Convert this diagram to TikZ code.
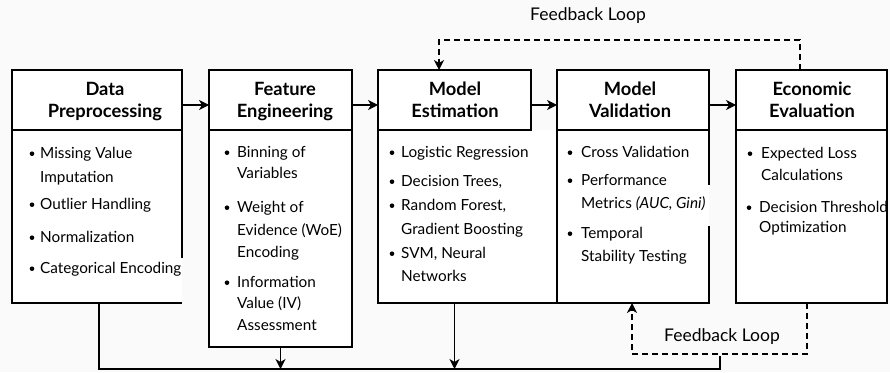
\documentclass[tikz,border=0pt]{standalone}
\usepackage{fontspec}
\setmainfont{Lato}
\usetikzlibrary{arrows.meta}

\begin{document}
\begin{tikzpicture}[x=1pt,y=-1pt,
  frame/.style={line width=1.3pt, inner sep=0pt, outer sep=0pt, anchor=north west, fill=white},
  drawn/.style={frame, draw},
  titletext/.style={font=\bfseries\fontsize{18.3}{21}\selectfont, inner sep=0pt, anchor=base},
  itemtext/.style={font=\fontsize{15.3}{18}\selectfont, inner sep=0pt, anchor=base west},
  dot/.style={circle, fill=black, inner sep=0pt, minimum size=4.6pt},
  notetext/.style={font=\fontsize{17.5}{20}\selectfont, inner sep=0pt},
  flow/.style={line width=1.2pt, -{Stealth[length=10pt,width=10pt,inset=3pt]}},
  wire/.style={line width=1.3pt},
  loop/.style={line width=1.2pt, dash pattern=on 6pt off 4pt},
]
% canvas
\fill[black!2] (0,0) rectangle (890,372);
\useasboundingbox (0,0) rectangle (890,372);

% ---- body panels (fill only; outlines drawn below) ----
\node[frame, minimum width=170pt, minimum height=173pt] (bd1) at (12,130) {};
\node[drawn, minimum width=143pt, minimum height=217pt] (bd2) at (209,130) {};
\node[frame, minimum width=179pt, minimum height=173pt] (bd3) at (378,130) {};
\node[frame, minimum width=152pt, minimum height=173pt] (bd4) at (557,130) {};
\node[drawn, minimum width=151pt, minimum height=173pt] (bd5) at (736,130) {};

% ---- outlines of the open-sided panels ----
\draw[wire] (bd1.north west) -- (bd1.south west) -- (bd1.south east);
\draw[wire] (bd1.north east) -- ++(0,128);
\draw[wire] (bd3.north west) -- (bd3.south west) -- (bd3.south east) -- (bd3.north east);
\draw[wire] (bd4.south west) -- (bd4.south east) -- ++(0,-77);
\draw[wire] (bd4.north east) -- ++(0,55);

% ---- header boxes ----
\node[drawn, minimum width=170pt, minimum height=60pt] (hd1) at (12,70) {};
\node[drawn, minimum width=143pt, minimum height=60pt] (hd2) at (209,70) {};
\node[drawn, minimum width=153pt, minimum height=60pt] (hd3) at (378,70) {};
\node[drawn, minimum width=152pt, minimum height=60pt] (hd4) at (557,70) {};
\node[drawn, minimum width=151pt, minimum height=60pt] (hd5) at (736,70) {};

% ---- header titles ----
\foreach \n/\x/\a/\b in {1/105/Data/Preprocessing, 2/285/Feature/Engineering,
    3/455/Model/Estimation, 4/630/Model/Validation, 5/812/Economic/Evaluation}{
  \node[titletext] (tt\n a) at (\x,95) {\a};
  \node[titletext] (tt\n b) at (\x,117) {\b};
}

% ---- bullet items ----
\foreach \n/\x/\y/\t in {
    1a/40/158.5/{Missing Value}, 1b/40/182.5/{Imputation}, 1c/40/209.5/{Outlier Handling},
    1d/40/242.5/{Normalization}, 1e/40/273.5/{Categorical Encoding},
    2a/237/157.5/{Binning of}, 2b/237/178/{Variables}, 2c/237/212.5/{Weight of},
    2d/237/235.5/{Evidence (WoE)}, 2e/237/257.5/{Encoding}, 2f/237/287.5/{Information},
    2g/237/308.5/{Value (IV)}, 2h/237/330.5/{Assessment},
    3a/401/157.5/{Logistic Regression}, 3b/401/186.5/{Decision Trees,},
    3c/401/210.5/{Random Forest,}, 3d/401/234.5/{Gradient Boosting},
    3e/401/258.5/{SVM, Neural}, 3f/401/281.5/{Networks},
    4a/581/157.5/{Cross Validation}, 4b/581/185.5/{Performance},
    4c/581/208.5/{Metrics \textit{(AUC, Gini)}}, 4d/581/238.5/{Temporal},
    4e/581/261.5/{Stability Testing},
    5a/761/158.5/{Expected Loss}, 5b/761/180.5/{Calculations},
    5c/759/212.5/{Decision Threshold}, 5d/759/232.5/{Optimization}}{
  \node[itemtext] (it\n) at (\x,\y) {\t};
}
\foreach \n/\x/\y in {1a/32/158.5, 1c/32/209.5, 1d/32/242.5, 1e/32/273.5,
    2a/227/157.5, 2c/227/212.5, 2f/227/287.5,
    3a/392/157.5, 3b/392/186.5, 3c/392/210.5, 3e/392/258.5,
    4a/570/157.5, 4b/570/185.5, 4d/570/238.5,
    5a/750/158.5, 5c/749/212.5}{
  \node[dot] (bu\n) at (\x,\y-4.8) {};
}

% ---- main flow between headers ----
\draw[flow] ([yshift=-5pt]hd1.east) -- ([yshift=-5pt]hd2.west);
\draw[flow] ([yshift=-5pt]hd2.east) -- ([yshift=-5pt]hd3.west);
\draw[flow] ([yshift=-5pt]hd3.east) -- ([yshift=-5pt]hd4.west);
\draw[flow] ([yshift=-5pt]hd4.east) -- ([yshift=-5pt]hd5.west);

% ---- collecting line underneath ----
\coordinate (busL) at (99,369);
\coordinate (busR) at (720,369);
\draw[wire] (busL |- bd1.south) -- (busL) -- (busR) -- ++(0,-13);
\draw[flow] (bd2.south) -- (bd2.south |- busL);
\draw[flow] (hd3.south |- bd3.south) -- (hd3.south |- busL);

% ---- feedback loop over the top ----
\coordinate (ftL) at (439,40);
\coordinate (ftR) at (800,40);
\draw[loop, -{Stealth[length=10pt,width=10pt,inset=3pt]}]
  (ftR |- hd5.north) -- (ftR) -- (ftL) -- (ftL |- hd3.north);
\node[notetext] (fbtop) at (588,16) {Feedback Loop};

% ---- feedback loop underneath ----
\coordinate (fbL) at (632,354);
\coordinate (fbR) at (807,354);
\draw[loop, -{Stealth[length=10pt,width=10pt,inset=3pt]}]
  (fbR |- bd5.south) -- (fbR) -- (fbL) -- (fbL |- bd4.south);
\node[notetext] (fbbot) at (722,337) {Feedback Loop};
\end{tikzpicture}
\end{document}
